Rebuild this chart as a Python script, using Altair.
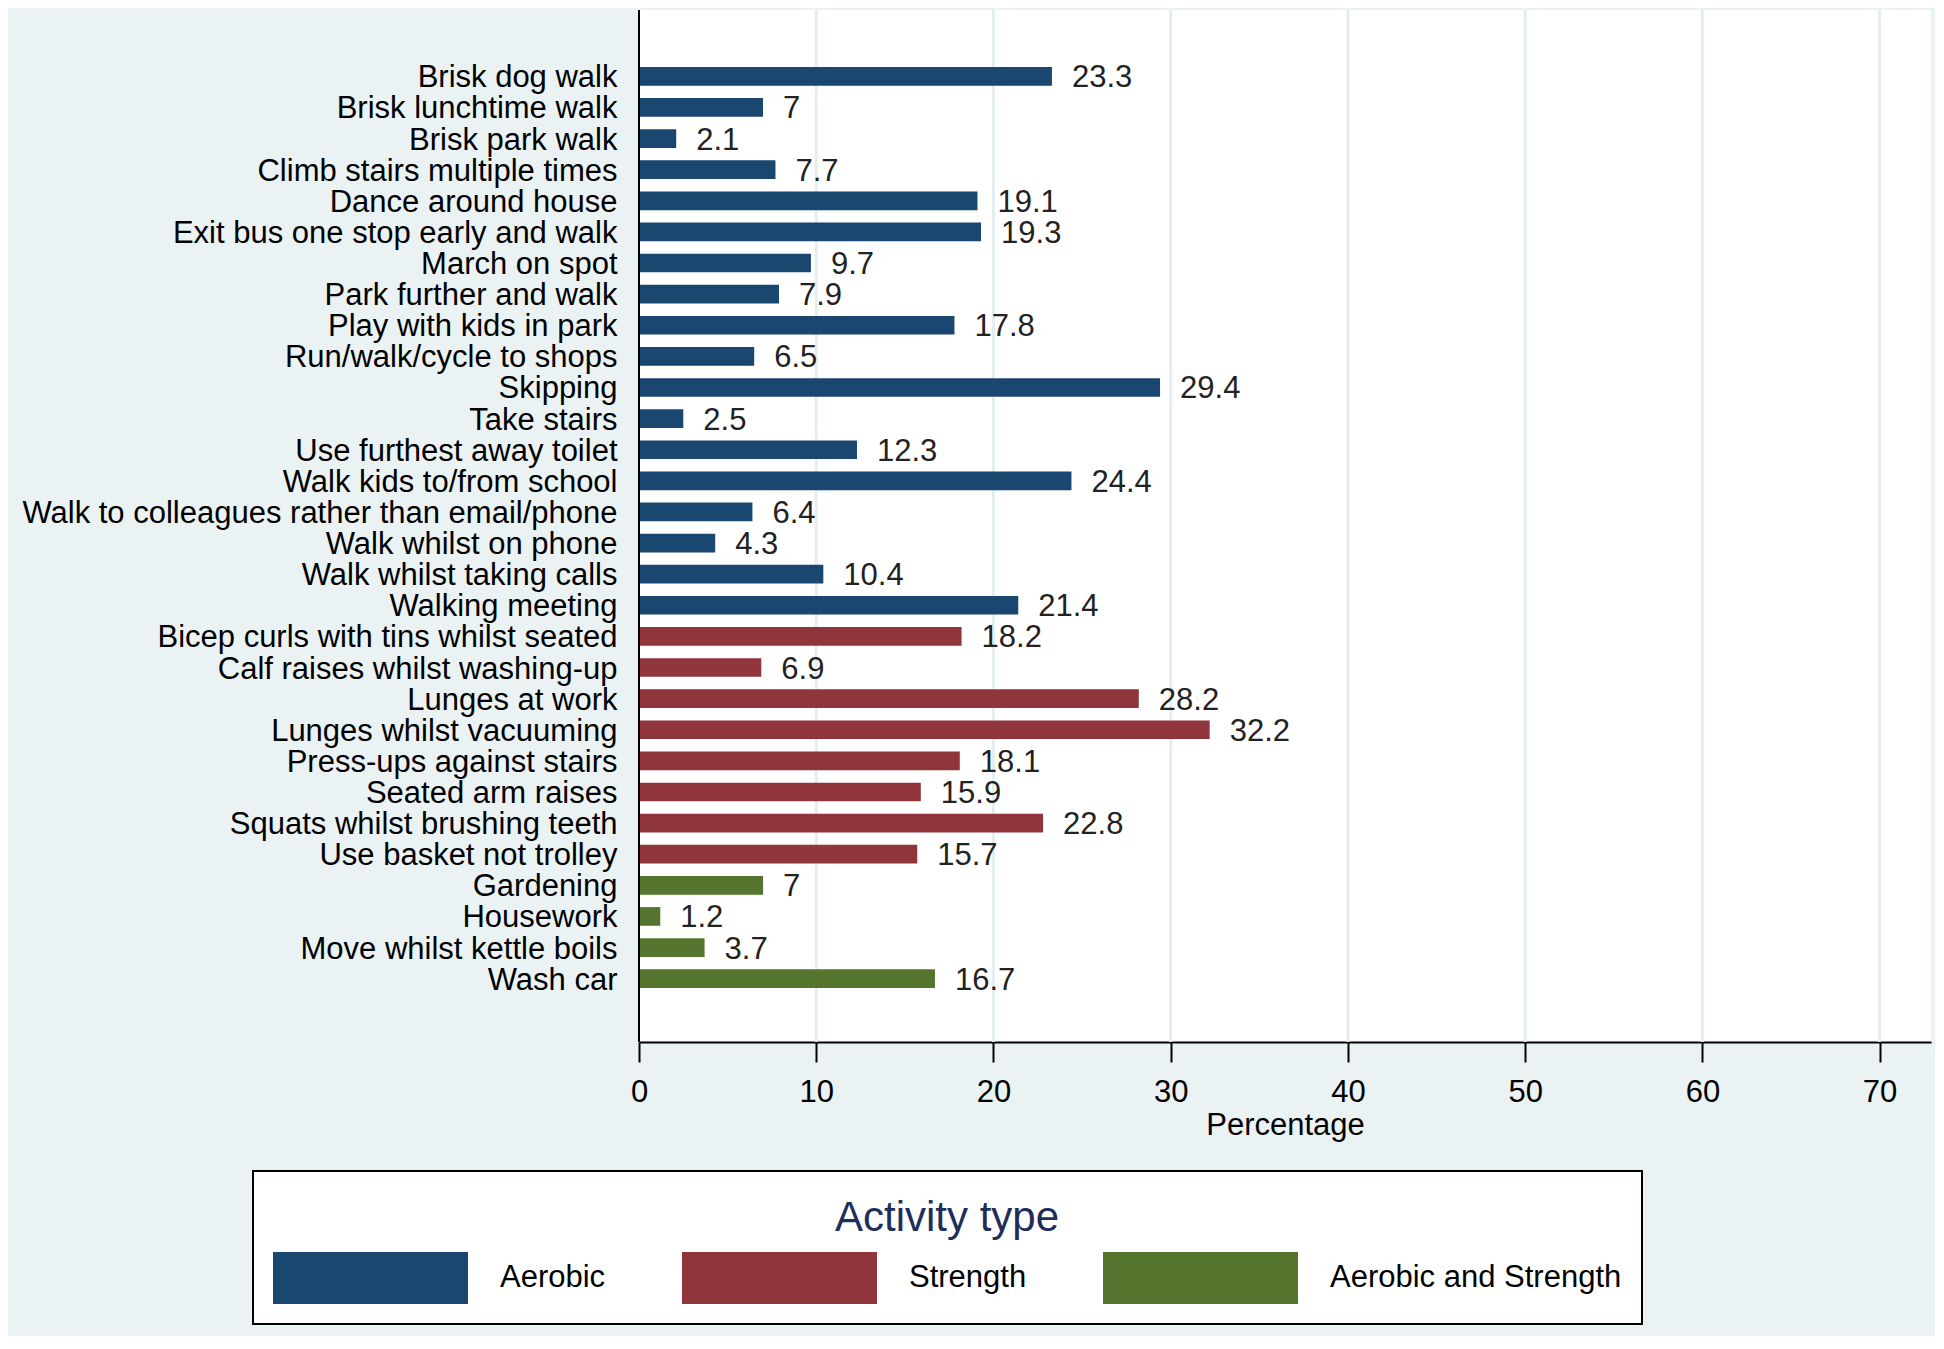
import altair as alt
import pandas as pd

activities = [
    "Brisk dog walk", "Brisk lunchtime walk", "Brisk park walk",
    "Climb stairs multiple times", "Dance around house",
    "Exit bus one stop early and walk", "March on spot",
    "Park further and walk", "Play with kids in park",
    "Run/walk/cycle to shops", "Skipping", "Take stairs",
    "Use furthest away toilet", "Walk kids to/from school",
    "Walk to colleagues rather than email/phone", "Walk whilst on phone",
    "Walk whilst taking calls", "Walking meeting",
    "Bicep curls with tins whilst seated", "Calf raises whilst washing-up",
    "Lunges at work", "Lunges whilst vacuuming", "Press-ups against stairs",
    "Seated arm raises", "Squats whilst brushing teeth",
    "Use basket not trolley",
    "Gardening", "Housework", "Move whilst kettle boils", "Wash car",
]
percentages = [
    23.3, 7, 2.1, 7.7, 19.1, 19.3, 9.7, 7.9, 17.8, 6.5, 29.4, 2.5, 12.3,
    24.4, 6.4, 4.3, 10.4, 21.4,
    18.2, 6.9, 28.2, 32.2, 18.1, 15.9, 22.8, 15.7,
    7, 1.2, 3.7, 16.7,
]
types = ["Aerobic"] * 18 + ["Strength"] * 8 + ["Aerobic and Strength"] * 4
type_order = ["Aerobic", "Strength", "Aerobic and Strength"]
type_colors = ["#1A476F", "#90353B", "#55752F"]
x_ticks = [0, 10, 20, 30, 40, 50, 60, 70]
grid_values = [10, 20, 30, 40, 50, 60, 70]
axis_origin = [0]

df = pd.DataFrame({
    "activity": activities,
    "pct": percentages,
    "type": types,
    "label": [f"{v:g}" for v in percentages],
})
grid_df = pd.DataFrame({"pct": grid_values})
origin_df = pd.DataFrame({"pct": axis_origin})

FONT = "Liberation Sans"
FS = 31

x_scale = alt.Scale(domain=[0, 72.9], nice=False, zero=True)
x_axis = alt.Axis(
    title="Percentage", values=x_ticks, tickSize=20, tickColor="black",
    tickWidth=2, domainColor="black", domainWidth=2,
    labelFontSize=FS, labelColor="black", labelFont=FONT,
    labelPadding=15, labelFlush=False,
    titleFontSize=FS, titleFontWeight="normal", titleColor="black",
    titleFont=FONT, titlePadding=3,
    grid=False,
)

y_enc = alt.Y(
    "activity:N",
    sort=activities,
    scale=alt.Scale(paddingInner=0.4, paddingOuter=0, range=[57, 978]),
    axis=alt.Axis(
        title=None, ticks=False, labelPadding=22, labelLimit=1000,
        labelFontSize=FS, labelColor="black", labelFont=FONT,
        labelOffset=2, domain=False, grid=False,
    ),
)

grid = alt.Chart(grid_df).mark_rule(color="#E4EEF1", strokeWidth=3).encode(
    x=alt.X("pct:Q", scale=x_scale, axis=x_axis)
)

bars = alt.Chart(df).mark_bar().encode(
    x=alt.X("pct:Q", scale=x_scale, axis=x_axis),
    y=y_enc,
    color=alt.Color(
        "type:N",
        scale=alt.Scale(domain=type_order, range=type_colors),
        legend=alt.Legend(
            title="Activity type", orient="none", legendX=-386, legendY=1161,
            direction="horizontal", titleAnchor="middle",
            titleFontSize=42, titleFontWeight="normal", titleColor="#1F2D5C",
            titleFont=FONT, titleLimit=2000,
            titleBaseline="line-top", titleLineHeight=56, titlePadding=19,
            labelFontSize=FS, labelColor="black", labelFont=FONT,
            labelLimit=2000, labelOffset=32, columnPadding=76,
            symbolType="M-1,-0.267H1V0.267H-1Z", symbolSize=38025,
            symbolStrokeWidth=0, symbolOpacity=1, clipHeight=52,
            padding=20, strokeColor="black", fillColor="white",
        ),
    ),
)

labels = alt.Chart(df).mark_text(
    align="left", baseline="middle", dx=20, dy=2, fontSize=FS, font=FONT,
    color="#222222",
).encode(
    x=alt.X("pct:Q", scale=x_scale, axis=x_axis),
    y=alt.Y("activity:N", sort=activities),
    text="label:N",
)

y_line = alt.Chart(origin_df).mark_rule(color="black", strokeWidth=2).encode(
    x=alt.X("pct:Q", scale=x_scale, axis=x_axis)
)

chart = (
    alt.layer(grid, bars, labels, y_line)
    .properties(
        width=1292, height=1032,
        padding={"left": 631, "top": 2, "right": 4, "bottom": 294},
        autosize=alt.AutoSizeParams(type="none"),
        background="#EAF2F3",
    )
    .configure(font=FONT)
    .configure_view(fill="white", strokeWidth=0)
    .configure_legend(strokeWidth=2)
)

chart.save("out.html", embed_options={"renderer": "svg", "actions": False})
